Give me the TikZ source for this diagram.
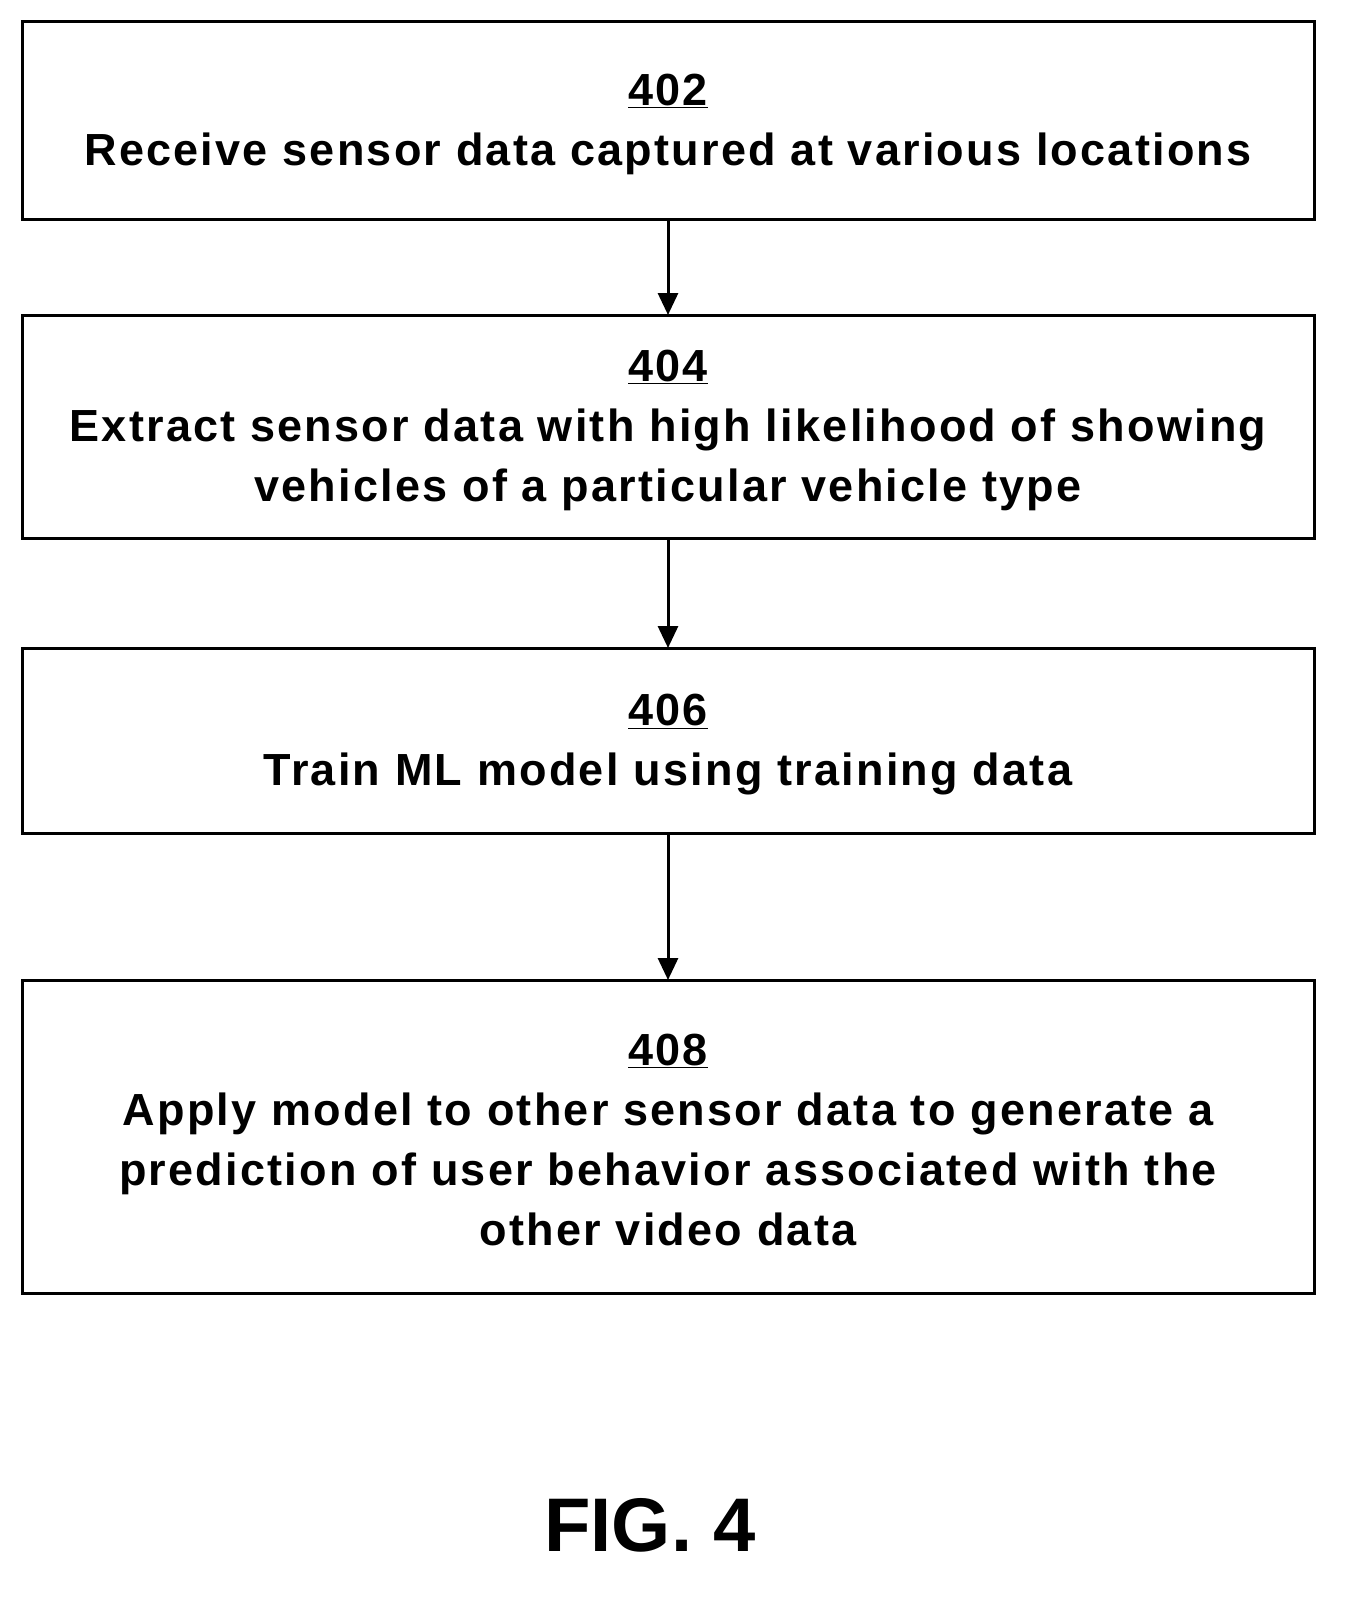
\documentclass[tikz,border=0pt]{standalone}
\usepackage{fontspec}
\setmainfont{Liberation Sans}
\usetikzlibrary{arrows.meta}
\begin{document}
\begin{tikzpicture}[x=1pt,y=-1pt,
  box/.style={draw,line width=3pt},
  txt/.style={font=\fontsize{45}{60}\selectfont\bfseries\addfontfeature{LetterSpace=5},align=center,inner sep=0},
  arr/.style={line width=3pt,-{Triangle[length=22pt,width=20pt]}}]
\useasboundingbox[fill=white] (0,0) rectangle (1361,1597);
\draw[box] (22,22) rectangle (1314,220);
\draw[box] (22,315) rectangle (1314,538);
\draw[box] (22,648) rectangle (1314,833);
\draw[box] (22,980) rectangle (1314,1293);
\coordinate (b1) at (668,220); \coordinate (t2) at (668,315);
\coordinate (b2) at (668,538); \coordinate (t3) at (668,648);
\coordinate (b3) at (668,833); \coordinate (t4) at (668,980);
\node[txt] (n1) at (668,124) {\underline{402}\\Receive sensor data captured at various locations};
\node[txt] (n2) at (668,430) {\underline{404}\\Extract sensor data with high likelihood of showing\\vehicles of a particular vehicle type};
\node[txt] (n3) at (668,745) {\underline{406}\\Train ML model using training data};
\node[txt] (n4) at (668,1140) {\underline{408}\\Apply model to other sensor data to generate a\\prediction of user behavior associated with the\\other video data};
\draw[arr] (b1) -- (t2);
\draw[arr] (b2) -- (t3);
\draw[arr] (b3) -- (t4);
\node[font=\fontsize{76}{90}\selectfont\bfseries,inner sep=0] (fig) at (650,1525) {FIG. 4};
\end{tikzpicture}
\end{document}
